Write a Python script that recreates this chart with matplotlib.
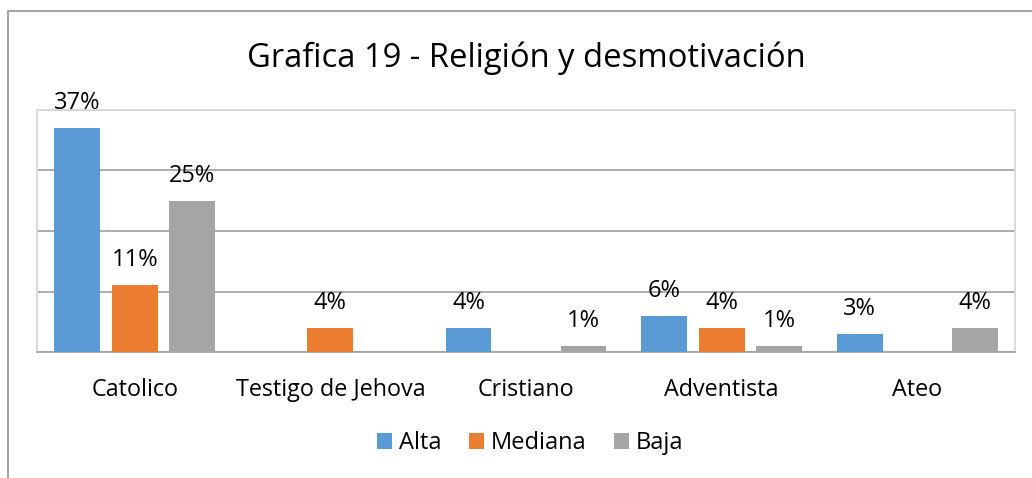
import numpy as np
import matplotlib
matplotlib.use("Agg")
import matplotlib.pyplot as plt
from matplotlib.lines import Line2D
from matplotlib.patches import Patch

plt.rcParams['font.family'] = ['Open Sans', 'DejaVu Sans']

categories = ["Catolico", "Testigo de Jehova", "Cristiano", "Adventista", "Ateo"]
series_names = ["Alta", "Mediana", "Baja"]
alta = [37, np.nan, 4, 6, 3]
mediana = [11, 4, np.nan, 4, np.nan]
baja = [25, np.nan, 1, 1, 4]
colors = ["#5B9BD5", "#ED7D31", "#A5A5A5"]
title = "Grafica 19 - Religión y desmotivación"

W, H = 1032, 478
fig = plt.figure(figsize=(W / 100, H / 100), dpi=100)
ax = fig.add_axes([37 / W, 1 - 352 / H, (1015 - 37) / W, (352 - 110) / H])

x = np.arange(len(categories))
bw = 0.235
offs = [-0.294, 0.0, 0.294]
for vals, name, col, off in zip([alta, mediana, baja], series_names, colors, offs):
    v = np.array(vals, dtype=float)
    ax.bar(x + off, np.nan_to_num(v), width=bw, color=col, zorder=3, label=name)
    for xi, val in zip(x + off, v):
        if not np.isnan(val):
            ax.annotate(f"{val:.0f}%", (xi, val), xytext=(0, 9.5), textcoords="offset points",
                        ha="center", va="bottom", fontsize=17, color="#000000", zorder=4)

ax.set_xlim(-0.5, len(categories) - 0.5)
ax.set_ylim(0, 40)
ax.set_yticks([0, 10, 20, 30, 40])
ax.set_yticklabels([])
ax.tick_params(axis="y", length=0)
ax.grid(axis="y", color="#a6a6a6", linewidth=1.3, zorder=0)
ax.set_xticks(x)
ax.set_xticklabels(categories, fontsize=16.8)
ax.tick_params(axis="x", length=0, pad=19)
for side in ["left", "top", "right"]:
    ax.spines[side].set_color("#d9d9d9")
    ax.spines[side].set_linewidth(1.3)
ax.spines["bottom"].set_color("#a6a6a6")
ax.spines["bottom"].set_linewidth(1.3)

fig.text(526 / W, 1 - 58 / H, title, ha="center", va="center", fontsize=23.6)

handles = [Patch(facecolor=c, label=n) for c, n in zip(colors, series_names)]
fig.legend(handles=handles, loc="center", bbox_to_anchor=(530 / W, 1 - 443 / H), ncol=3,
           frameon=False, fontsize=17, handlelength=0.64, handleheight=0.64,
           handletextpad=0.3, columnspacing=1.15)

# outer chart frame (partly cropped)
fig.add_artist(Line2D([8 / W, 8 / W], [0, 1 - 11 / H], transform=fig.transFigure,
                      color="#a6a6a6", linewidth=1.5))
fig.add_artist(Line2D([8 / W, 1], [1 - 11 / H, 1 - 11 / H], transform=fig.transFigure,
                      color="#a6a6a6", linewidth=1.5))

fig.savefig("out.png", dpi=100, facecolor="white")
